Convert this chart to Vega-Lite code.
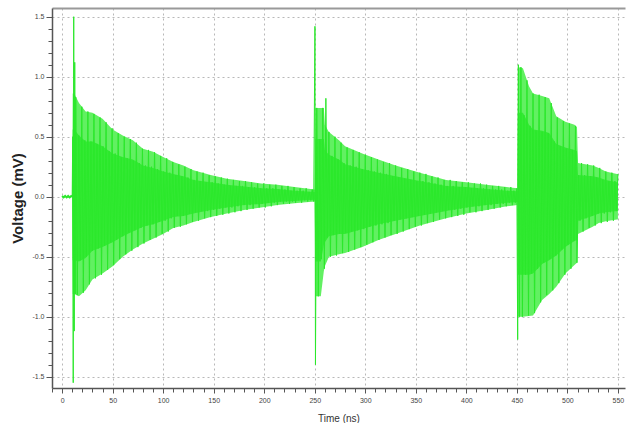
{
  "$schema": "https://vega.github.io/schema/vega-lite/v6.json",
  "width": 573,
  "height": 380,
  "autosize": "none",
  "padding": {"left": 52, "top": 8, "right": 4, "bottom": 35},
  "background": "white",
  "config": {
    "view": {"stroke": null},
    "font": "Liberation Sans",
    "axis": {"labelFont": "Liberation Sans", "titleFont": "Liberation Sans"}
  },
  "datasets": {
    "flat": [
      {"t":0,"v":0.006},{"t":1.5,"v":-0.006},{"t":3,"v":0.006},{"t":4.5,"v":-0.006},{"t":6,"v":0.006},{"t":7.5,"v":-0.006},{"t":9,"v":0.006},{"t":10,"v":0}
    ],
    "env": [
      {"t":10,"hi":0,"lo":0,"hi2":0,"lo2":0},
      {"t":10.5,"hi":0.86,"lo":-0.81,"hi2":0.56,"lo2":-0.53},
      {"t":12,"hi":0.86,"lo":-0.81,"hi2":0.56,"lo2":-0.53},
      {"t":16.7,"hi":0.78,"lo":-0.83,"hi2":0.51,"lo2":-0.54},
      {"t":23.3,"hi":0.71,"lo":-0.78,"hi2":0.46,"lo2":-0.51},
      {"t":30,"hi":0.70,"lo":-0.69,"hi2":0.46,"lo2":-0.45},
      {"t":40,"hi":0.65,"lo":-0.64,"hi2":0.42,"lo2":-0.42},
      {"t":50,"hi":0.56,"lo":-0.58,"hi2":0.36,"lo2":-0.38},
      {"t":60,"hi":0.51,"lo":-0.50,"hi2":0.33,"lo2":-0.33},
      {"t":70,"hi":0.47,"lo":-0.44,"hi2":0.31,"lo2":-0.29},
      {"t":80,"hi":0.40,"lo":-0.39,"hi2":0.26,"lo2":-0.25},
      {"t":90,"hi":0.375,"lo":-0.35,"hi2":0.24,"lo2":-0.23},
      {"t":100,"hi":0.33,"lo":-0.31,"hi2":0.21,"lo2":-0.20},
      {"t":110,"hi":0.29,"lo":-0.26,"hi2":0.19,"lo2":-0.17},
      {"t":120,"hi":0.26,"lo":-0.24,"hi2":0.17,"lo2":-0.16},
      {"t":130,"hi":0.22,"lo":-0.21,"hi2":0.14,"lo2":-0.14},
      {"t":147,"hi":0.18,"lo":-0.17,"hi2":0.12,"lo2":-0.11},
      {"t":163,"hi":0.15,"lo":-0.14,"hi2":0.10,"lo2":-0.09},
      {"t":180,"hi":0.13,"lo":-0.11,"hi2":0.085,"lo2":-0.07},
      {"t":197,"hi":0.11,"lo":-0.09,"hi2":0.07,"lo2":-0.06},
      {"t":213,"hi":0.10,"lo":-0.07,"hi2":0.065,"lo2":-0.045},
      {"t":230,"hi":0.08,"lo":-0.055,"hi2":0.05,"lo2":-0.035},
      {"t":250,"hi":0.06,"lo":-0.04,"hi2":0.04,"lo2":-0.026},
      {"t":250.5,"hi":0.74,"lo":-0.83,"hi2":0.48,"lo2":-0.54},
      {"t":256,"hi":0.74,"lo":-0.83,"hi2":0.48,"lo2":-0.54},
      {"t":259,"hi":0.74,"lo":-0.62,"hi2":0.48,"lo2":-0.40},
      {"t":260,"hi":0.60,"lo":-0.58,"hi2":0.39,"lo2":-0.38},
      {"t":264,"hi":0.54,"lo":-0.50,"hi2":0.35,"lo2":-0.33},
      {"t":274,"hi":0.47,"lo":-0.48,"hi2":0.31,"lo2":-0.31},
      {"t":280,"hi":0.42,"lo":-0.47,"hi2":0.27,"lo2":-0.31},
      {"t":297,"hi":0.36,"lo":-0.42,"hi2":0.23,"lo2":-0.27},
      {"t":313,"hi":0.31,"lo":-0.36,"hi2":0.20,"lo2":-0.23},
      {"t":330,"hi":0.26,"lo":-0.31,"hi2":0.17,"lo2":-0.20},
      {"t":354,"hi":0.20,"lo":-0.24,"hi2":0.13,"lo2":-0.16},
      {"t":380,"hi":0.14,"lo":-0.18,"hi2":0.09,"lo2":-0.12},
      {"t":400,"hi":0.12,"lo":-0.14,"hi2":0.08,"lo2":-0.09},
      {"t":420,"hi":0.10,"lo":-0.11,"hi2":0.065,"lo2":-0.07},
      {"t":440,"hi":0.08,"lo":-0.08,"hi2":0.05,"lo2":-0.05},
      {"t":450.5,"hi":0.07,"lo":-0.07,"hi2":0.045,"lo2":-0.045},
      {"t":451,"hi":1.08,"lo":-1.0,"hi2":0.70,"lo2":-0.65},
      {"t":456,"hi":1.07,"lo":-1.0,"hi2":0.70,"lo2":-0.65},
      {"t":462,"hi":0.92,"lo":-0.995,"hi2":0.60,"lo2":-0.65},
      {"t":466,"hi":0.86,"lo":-0.99,"hi2":0.56,"lo2":-0.64},
      {"t":475,"hi":0.84,"lo":-0.86,"hi2":0.55,"lo2":-0.56},
      {"t":482,"hi":0.82,"lo":-0.81,"hi2":0.53,"lo2":-0.53},
      {"t":489,"hi":0.67,"lo":-0.75,"hi2":0.44,"lo2":-0.49},
      {"t":498,"hi":0.625,"lo":-0.64,"hi2":0.41,"lo2":-0.42},
      {"t":507,"hi":0.60,"lo":-0.57,"hi2":0.39,"lo2":-0.37},
      {"t":509.5,"hi":0.58,"lo":-0.55,"hi2":0.38,"lo2":-0.36},
      {"t":510.5,"hi":0.28,"lo":-0.31,"hi2":0.18,"lo2":-0.20},
      {"t":525,"hi":0.26,"lo":-0.25,"hi2":0.17,"lo2":-0.16},
      {"t":531,"hi":0.24,"lo":-0.22,"hi2":0.16,"lo2":-0.14},
      {"t":538,"hi":0.21,"lo":-0.205,"hi2":0.14,"lo2":-0.13},
      {"t":549,"hi":0.19,"lo":-0.19,"hi2":0.12,"lo2":-0.12},
      {"t":550,"hi":0.19,"lo":-0.19,"hi2":0.12,"lo2":-0.12}
    ],
    "sig": [
      {"t":10,"v":0},{"t":10.5,"v":0.5},{"t":11,"v":-1.55},{"t":11.5,"v":1.5},{"t":12,"v":-1.12},{"t":12.5,"v":1.12},{"t":13,"v":-0.81},
      {"t":13.5,"v":0.83},{"t":15,"v":-0.82},{"t":16.5,"v":0.51},{"t":18,"v":-0.53},{"t":19.5,"v":0.75},{"t":21,"v":-0.80},{"t":22.5,"v":0.47},{"t":24,"v":-0.50},
      {"t":25.5,"v":0.71},{"t":27,"v":-0.73},{"t":28.5,"v":0.46},{"t":30,"v":-0.45},{"t":31.5,"v":0.69},{"t":33,"v":-0.68},{"t":34.5,"v":0.44},{"t":36,"v":-0.43},
      {"t":37.5,"v":0.66},{"t":39,"v":-0.65},{"t":40.5,"v":0.42},{"t":42,"v":-0.41},{"t":43.5,"v":0.62},{"t":45,"v":-0.61},{"t":46.5,"v":0.38},{"t":48,"v":-0.38},
      {"t":49.5,"v":0.57},{"t":51,"v":-0.57},{"t":52.5,"v":0.36},{"t":54,"v":-0.36},{"t":55.5,"v":0.53},{"t":57,"v":-0.52},{"t":58.5,"v":0.33},{"t":60,"v":-0.33},
      {"t":61.5,"v":0.50},{"t":63,"v":-0.48},{"t":64.5,"v":0.32},{"t":66,"v":-0.30},{"t":67.5,"v":0.48},{"t":69,"v":-0.45},{"t":70.5,"v":0.30},{"t":72,"v":-0.28},
      {"t":73.5,"v":0.45},{"t":75,"v":-0.42},{"t":76.5,"v":0.28},{"t":78,"v":-0.26},{"t":79.5,"v":0.40},{"t":81,"v":-0.39},{"t":82.5,"v":0.26},{"t":84,"v":-0.24},
      {"t":85.5,"v":0.39},{"t":87,"v":-0.36},{"t":88.5,"v":0.25},{"t":90,"v":-0.23},{"t":91.5,"v":0.37},{"t":93,"v":-0.34},{"t":94.5,"v":0.23},{"t":96,"v":-0.21},
      {"t":97.5,"v":0.34},{"t":99,"v":-0.31},{"t":100.5,"v":0.21},{"t":102,"v":-0.20},{"t":103.5,"v":0.32},{"t":105,"v":-0.29},{"t":106.5,"v":0.20},{"t":108,"v":-0.18},
      {"t":109.5,"v":0.29},{"t":111,"v":-0.26},{"t":112.5,"v":0.18},{"t":114,"v":-0.16},{"t":115.5,"v":0.27},{"t":117,"v":-0.25},{"t":118.5,"v":0.17},{"t":120,"v":-0.16},
      {"t":121.5,"v":0.25},{"t":123,"v":-0.23},{"t":124.5,"v":0.16},{"t":126,"v":-0.14},{"t":127.5,"v":0.23},{"t":129,"v":-0.21},{"t":130.5,"v":0.14},{"t":132,"v":-0.13},
      {"t":133.5,"v":0.21},{"t":135,"v":-0.20},{"t":136.5,"v":0.13},{"t":138,"v":-0.12},{"t":139.5,"v":0.20},{"t":141,"v":-0.18},{"t":142.5,"v":0.12},{"t":144,"v":-0.12},
      {"t":145.5,"v":0.18},{"t":147,"v":-0.17},{"t":148.5,"v":0.12},{"t":150,"v":-0.11},{"t":151.5,"v":0.17},{"t":153,"v":-0.16},{"t":154.5,"v":0.11},{"t":156,"v":-0.10},
      {"t":157.5,"v":0.16},{"t":159,"v":-0.15},{"t":160.5,"v":0.10},{"t":162,"v":-0.09},{"t":163.5,"v":0.15},{"t":165,"v":-0.14},{"t":166.5,"v":0.09},{"t":168,"v":-0.09},
      {"t":169.5,"v":0.14},{"t":171,"v":-0.13},{"t":172.5,"v":0.09},{"t":174,"v":-0.08},{"t":175.5,"v":0.13},{"t":177,"v":-0.12},{"t":178.5,"v":0.09},{"t":180,"v":-0.07},
      {"t":181.5,"v":0.13},{"t":183,"v":-0.11},{"t":184.5,"v":0.08},{"t":186,"v":-0.07},{"t":187.5,"v":0.12},{"t":189,"v":-0.10},{"t":190.5,"v":0.08},{"t":192,"v":-0.06},
      {"t":193.5,"v":0.11},{"t":195,"v":-0.09},{"t":196.5,"v":0.07},{"t":198,"v":-0.06},{"t":199.5,"v":0.11},{"t":201,"v":-0.09},{"t":202.5,"v":0.07},{"t":204,"v":-0.05},
      {"t":205.5,"v":0.10},{"t":207,"v":-0.08},{"t":208.5,"v":0.07},{"t":210,"v":-0.05},{"t":211.5,"v":0.10},{"t":213,"v":-0.07},{"t":214.5,"v":0.06},{"t":216,"v":-0.04},
      {"t":217.5,"v":0.09},{"t":219,"v":-0.06},{"t":220.5,"v":0.06},{"t":222,"v":-0.04},{"t":223.5,"v":0.09},{"t":225,"v":-0.06},{"t":226.5,"v":0.05},{"t":228,"v":-0.04},
      {"t":229.5,"v":0.08},{"t":231,"v":-0.05},{"t":232.5,"v":0.05},{"t":234,"v":-0.03},{"t":235.5,"v":0.07},{"t":237,"v":-0.05},{"t":238.5,"v":0.05},{"t":240,"v":-0.03},
      {"t":241.5,"v":0.07},{"t":243,"v":-0.04},{"t":244.5,"v":0.04},{"t":246,"v":-0.03},{"t":247.5,"v":0.06},{"t":249,"v":-0.04},
      {"t":250.2,"v":1.42},{"t":250.7,"v":-1.40},
      {"t":252,"v":0.74},{"t":253.5,"v":-0.83},{"t":255,"v":0.48},{"t":256.5,"v":-0.52},{"t":258,"v":0.74},{"t":259.5,"v":-0.60},{"t":261,"v":0.82},{"t":262.5,"v":-0.34},
      {"t":264,"v":0.54},{"t":265.5,"v":-0.50},{"t":267,"v":0.34},{"t":268.5,"v":-0.32},{"t":270,"v":0.50},{"t":271.5,"v":-0.49},{"t":273,"v":0.31},{"t":274.5,"v":-0.31},
      {"t":276,"v":0.45},{"t":277.5,"v":-0.47},{"t":279,"v":0.28},{"t":280.5,"v":-0.30},{"t":282,"v":0.41},{"t":283.5,"v":-0.46},{"t":285,"v":0.26},{"t":286.5,"v":-0.29},
      {"t":288,"v":0.39},{"t":289.5,"v":-0.44},{"t":291,"v":0.25},{"t":292.5,"v":-0.28},{"t":294,"v":0.37},{"t":295.5,"v":-0.42},{"t":297,"v":0.23},{"t":298.5,"v":-0.27},
      {"t":300,"v":0.35},{"t":301.5,"v":-0.40},{"t":303,"v":0.22},{"t":304.5,"v":-0.25},{"t":306,"v":0.33},{"t":307.5,"v":-0.38},{"t":309,"v":0.21},{"t":310.5,"v":-0.24},
      {"t":312,"v":0.31},{"t":313.5,"v":-0.36},{"t":315,"v":0.20},{"t":316.5,"v":-0.23},{"t":318,"v":0.29},{"t":319.5,"v":-0.34},{"t":321,"v":0.19},{"t":322.5,"v":-0.22},
      {"t":324,"v":0.28},{"t":325.5,"v":-0.32},{"t":327,"v":0.17},{"t":328.5,"v":-0.20},{"t":330,"v":0.26},{"t":331.5,"v":-0.31},{"t":333,"v":0.16},{"t":334.5,"v":-0.19},
      {"t":336,"v":0.24},{"t":337.5,"v":-0.29},{"t":339,"v":0.15},{"t":340.5,"v":-0.18},{"t":342,"v":0.23},{"t":343.5,"v":-0.27},{"t":345,"v":0.14},{"t":346.5,"v":-0.17},
      {"t":348,"v":0.21},{"t":349.5,"v":-0.25},{"t":351,"v":0.13},{"t":352.5,"v":-0.16},{"t":354,"v":0.20},{"t":355.5,"v":-0.24},{"t":357,"v":0.13},{"t":358.5,"v":-0.15},
      {"t":360,"v":0.19},{"t":361.5,"v":-0.22},{"t":363,"v":0.12},{"t":364.5,"v":-0.14},{"t":366,"v":0.17},{"t":367.5,"v":-0.21},{"t":369,"v":0.11},{"t":370.5,"v":-0.13},
      {"t":372,"v":0.16},{"t":373.5,"v":-0.19},{"t":375,"v":0.10},{"t":376.5,"v":-0.12},{"t":378,"v":0.14},{"t":379.5,"v":-0.18},{"t":381,"v":0.09},{"t":382.5,"v":-0.11},
      {"t":384,"v":0.14},{"t":385.5,"v":-0.17},{"t":387,"v":0.09},{"t":388.5,"v":-0.11},{"t":390,"v":0.13},{"t":391.5,"v":-0.16},{"t":393,"v":0.08},{"t":394.5,"v":-0.10},
      {"t":396,"v":0.12},{"t":397.5,"v":-0.15},{"t":399,"v":0.08},{"t":400.5,"v":-0.09},{"t":402,"v":0.12},{"t":403.5,"v":-0.13},{"t":405,"v":0.07},{"t":406.5,"v":-0.08},
      {"t":408,"v":0.11},{"t":409.5,"v":-0.13},{"t":411,"v":0.07},{"t":412.5,"v":-0.08},{"t":414,"v":0.11},{"t":415.5,"v":-0.12},{"t":417,"v":0.07},{"t":418.5,"v":-0.07},
      {"t":420,"v":0.10},{"t":421.5,"v":-0.11},{"t":423,"v":0.06},{"t":424.5,"v":-0.07},{"t":426,"v":0.09},{"t":427.5,"v":-0.10},{"t":429,"v":0.06},{"t":430.5,"v":-0.06},
      {"t":432,"v":0.09},{"t":433.5,"v":-0.09},{"t":435,"v":0.06},{"t":436.5,"v":-0.06},{"t":438,"v":0.08},{"t":439.5,"v":-0.08},{"t":441,"v":0.05},{"t":442.5,"v":-0.05},
      {"t":444,"v":0.08},{"t":445.5,"v":-0.07},{"t":447,"v":0.05},{"t":448.5,"v":-0.05},{"t":450,"v":0.07},
      {"t":450.8,"v":-1.19},{"t":451.5,"v":1.10},{"t":452.5,"v":-1.00},
      {"t":454,"v":1.08},{"t":455.5,"v":-1.00},{"t":457,"v":0.68},{"t":458.5,"v":-0.65},{"t":460,"v":0.97},{"t":461.5,"v":-0.99},{"t":463,"v":0.59},{"t":464.5,"v":-0.64},
      {"t":466,"v":0.86},{"t":467.5,"v":-0.97},{"t":469,"v":0.55},{"t":470.5,"v":-0.60},{"t":472,"v":0.85},{"t":473.5,"v":-0.88},{"t":475,"v":0.54},{"t":476.5,"v":-0.55},
      {"t":478,"v":0.83},{"t":479.5,"v":-0.82},{"t":481,"v":0.53},{"t":482.5,"v":-0.52},{"t":484,"v":0.78},{"t":485.5,"v":-0.78},{"t":487,"v":0.46},{"t":488.5,"v":-0.49},
      {"t":490,"v":0.66},{"t":491.5,"v":-0.72},{"t":493,"v":0.42},{"t":494.5,"v":-0.44},{"t":496,"v":0.63},{"t":497.5,"v":-0.65},{"t":499,"v":0.40},{"t":500.5,"v":-0.40},
      {"t":502,"v":0.61},{"t":503.5,"v":-0.60},{"t":505,"v":0.39},{"t":506.5,"v":-0.37},{"t":508,"v":0.59},{"t":509.5,"v":-0.55},{"t":511,"v":0.18},{"t":512.5,"v":-0.20},
      {"t":514,"v":0.28},{"t":515.5,"v":-0.29},{"t":517,"v":0.18},{"t":518.5,"v":-0.18},{"t":520,"v":0.27},{"t":521.5,"v":-0.26},{"t":523,"v":0.17},{"t":524.5,"v":-0.16},
      {"t":526,"v":0.26},{"t":527.5,"v":-0.24},{"t":529,"v":0.16},{"t":530.5,"v":-0.14},{"t":532,"v":0.24},{"t":533.5,"v":-0.22},{"t":535,"v":0.14},{"t":536.5,"v":-0.14},
      {"t":538,"v":0.21},{"t":539.5,"v":-0.21},{"t":541,"v":0.13},{"t":542.5,"v":-0.13},{"t":544,"v":0.20},{"t":545.5,"v":-0.20},{"t":547,"v":0.13},{"t":548.5,"v":-0.12},
      {"t":550,"v":0.19}
    ]
  },
  "resolve": {"axis": {"x": "independent", "y": "independent"}},
  "layer": [
    {
      "data": {"name": "env"},
      "mark": {"type": "area", "color": "#62f062", "opacity": 1, "clip": true},
      "encoding": {
        "x": {"field": "t", "type": "quantitative", "scale": {"domain": [-10, 557], "nice": false, "zero": false}, "axis": null},
        "y": {"field": "hi", "type": "quantitative", "scale": {"domain": [-1.594, 1.5725], "nice": false, "zero": false}, "axis": null},
        "y2": {"field": "lo"}
      }
    },
    {
      "data": {"name": "env"},
      "mark": {"type": "area", "color": "#34ea34", "opacity": 1, "clip": true},
      "encoding": {
        "x": {"field": "t", "type": "quantitative", "axis": null},
        "y": {"field": "hi2", "type": "quantitative", "axis": null},
        "y2": {"field": "lo2"}
      }
    },
    {
      "data": {"name": "sig"},
      "mark": {"type": "line", "color": "#2be82b", "strokeWidth": 1, "clip": true},
      "encoding": {
        "x": {
          "field": "t", "type": "quantitative",
          "axis": {
            "orient": "bottom",
            "values": [-10,0,10,20,30,40,50,60,70,80,90,100,110,120,130,140,150,160,170,180,190,200,210,220,230,240,250,260,270,280,290,300,310,320,330,340,350,360,370,380,390,400,410,420,430,440,450,460,470,480,490,500,510,520,530,540,550],
            "labelExpr": "(datum.value % 50 === 0 && datum.value >= 0) ? format(datum.value, 'd') : ''",
            "labelFontSize": 7,
            "labelColor": "#444",
            "labelPadding": 3,
            "tickSize": {"condition": {"test": "datum.value % 50 === 0", "value": 5}, "value": 4},
            "tickColor": "#555",
            "tickWidth": 1,
            "domainColor": "#555",
            "domainWidth": 1.5,
            "grid": true,
            "gridDash": [2, 3],
            "gridColor": "#b8b8b8",
            "gridOpacity": {"condition": {"test": "datum.value % 50 === 0 && datum.value >= 0", "value": 1}, "value": 0},
            "title": "Time (ns)",
            "titleFontSize": 10,
            "titleFontWeight": "normal",
            "titleColor": "#333",
            "titlePadding": 10
          }
        },
        "y": {
          "field": "v", "type": "quantitative",
          "axis": {
            "orient": "left",
            "values": [-1.5,-1.4,-1.3,-1.2,-1.1,-1.0,-0.9,-0.8,-0.7,-0.6,-0.5,-0.4,-0.3,-0.2,-0.1,0,0.1,0.2,0.3,0.4,0.5,0.6,0.7,0.8,0.9,1.0,1.1,1.2,1.3,1.4,1.5],
            "labelExpr": "abs(round(datum.value*2) - datum.value*2) < 0.001 ? ((datum.value < -0.001 ? '-' : '') + format(abs(datum.value), '.1f')) : ''",
            "labelFontSize": 7,
            "labelColor": "#444",
            "labelPadding": 2,
            "tickSize": {"condition": {"test": "abs(round(datum.value*2) - datum.value*2) < 0.001", "value": 6}, "value": 4},
            "tickColor": "#555",
            "tickWidth": 1,
            "domainColor": "#555",
            "domainWidth": 1.5,
            "grid": true,
            "gridDash": [2, 3],
            "gridColor": "#b8b8b8",
            "gridOpacity": {"condition": {"test": "abs(round(datum.value*2) - datum.value*2) < 0.001", "value": 1}, "value": 0},
            "title": "Voltage (mV)",
            "titleFontSize": 15,
            "titleFontWeight": "bold",
            "titleColor": "#222",
            "titlePadding": 6
          }
        }
      }
    },
    {
      "data": {"name": "flat"},
      "mark": {"type": "line", "color": "#2be82b", "strokeWidth": 2, "clip": true},
      "encoding": {
        "x": {
          "field": "t", "type": "quantitative",
          "axis": {"orient": "top", "labels": false, "ticks": false, "grid": false, "domain": true, "domainColor": "#999", "domainWidth": 2, "title": null}
        },
        "y": {"field": "v", "type": "quantitative", "axis": null}
      }
    }
  ]
}
